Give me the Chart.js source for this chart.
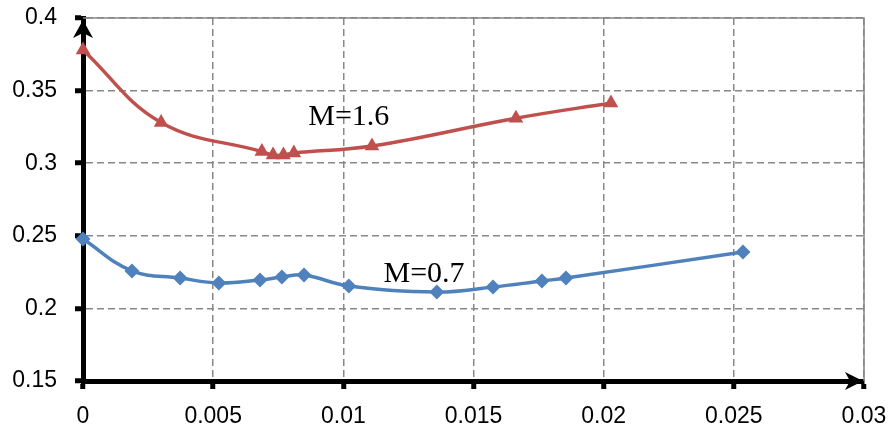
<!DOCTYPE html>
<html>
<head>
<meta charset="utf-8">
<script src="https://cdn.jsdelivr.net/npm/chart.js@4/dist/chart.umd.min.js"></script>
<style>
  html, body { margin: 0; padding: 0; background: #fff; }
  #wrap { width: 890px; height: 436px; position: relative; }
</style>
</head>
<body>
<div id="wrap"><canvas id="chart"></canvas></div>
<script>
// M = 1.6 curve
const xHigh = [0, 0.0030, 0.00687, 0.0073, 0.0077, 0.0081, 0.0111, 0.01663, 0.02028];
const yHigh = [0.378, 0.328, 0.308, 0.3056, 0.3056, 0.307, 0.3118, 0.331, 0.3415];

// M = 0.7 curve
const xLow = [0, 0.00188, 0.00373, 0.00522, 0.0068, 0.00764, 0.00849, 0.01021, 0.01359, 0.01575, 0.01763, 0.01855, 0.02535];
const yLow = [0.2478, 0.2258, 0.2209, 0.2175, 0.2196, 0.2216, 0.223, 0.2154, 0.2113, 0.2147, 0.2189, 0.2209, 0.2388];

const xTicks = [0, 0.005, 0.01, 0.015, 0.02, 0.025, 0.03];
const yTicks = [0.15, 0.2, 0.25, 0.3, 0.35, 0.4];

// curve captions, anchored in data coordinates
const captions = [
    { text: 'M=1.6', x: 0.01021, y: 0.3263 },
    { text: 'M=0.7', x: 0.0131, y: 0.2182 }
];

const toPoints = (xs, ys) => xs.map((x, i) => ({ x: x, y: ys[i] }));

// black axes with arrow heads + grey frame on top/right
const axesPlugin = {
    id: 'axesArrows',
    beforeDatasetsDraw(chart) {
        const { ctx, chartArea: a } = chart;
        ctx.save();
        ctx.strokeStyle = '#888';
        ctx.lineWidth = 1.5;
        ctx.beginPath();
        ctx.moveTo(a.left, a.top);
        ctx.lineTo(a.right, a.top);
        ctx.lineTo(a.right, a.bottom);
        ctx.stroke();

        ctx.fillStyle = '#000';
        // up arrow on the y axis
        const yx = a.left;
        ctx.beginPath();
        ctx.moveTo(yx, a.top + 2);
        ctx.lineTo(yx + 10, a.top + 20);
        ctx.lineTo(yx, a.top + 15);
        ctx.lineTo(yx - 10, a.top + 20);
        ctx.closePath();
        ctx.fill();
        // right arrow on the x axis
        const xy = a.bottom;
        ctx.beginPath();
        ctx.moveTo(a.right - 1, xy);
        ctx.lineTo(a.right - 19, xy - 9);
        ctx.lineTo(a.right - 14, xy);
        ctx.lineTo(a.right - 19, xy + 9);
        ctx.closePath();
        ctx.fill();
        ctx.restore();
    },
    afterDatasetsDraw(chart) {
        const { ctx, scales } = chart;
        ctx.save();
        ctx.fillStyle = '#000';
        ctx.font = '30px "Liberation Serif", "Times New Roman", serif';
        ctx.textAlign = 'center';
        ctx.textBaseline = 'alphabetic';
        captions.forEach(c => {
            ctx.fillText(c.text, scales.x.getPixelForValue(c.x), scales.y.getPixelForValue(c.y));
        });
        ctx.restore();
    }
};

const tickFont = { family: '"Liberation Sans", Arial, sans-serif', size: 23 };

// fixed axis sizes, no extra room for overhanging labels
const fitBox = size => s => {
    if (s.isHorizontal()) s.height = size; else s.width = size;
    s.paddingTop = 0; s.paddingBottom = 0; s.paddingLeft = 0; s.paddingRight = 0;
};

new Chart(document.getElementById('chart'), {
    type: 'scatter',
    data: {
        datasets: [
            {
                label: 'M=1.6',
                data: toPoints(xHigh, yHigh),
                showLine: true,
                clip: false,
                borderColor: '#C0504D',
                backgroundColor: '#C0504D',
                borderWidth: 3.5,
                tension: 0.4,
                pointStyle: 'triangle',
                pointRadius: 8.5,
                pointBorderWidth: 0
            },
            {
                label: 'M=0.7',
                data: toPoints(xLow, yLow),
                showLine: true,
                clip: false,
                borderColor: '#4F81BD',
                backgroundColor: '#4F81BD',
                borderWidth: 3.5,
                tension: 0.4,
                pointStyle: 'rectRot',
                pointRadius: 7.5,
                pointBorderWidth: 0
            }
        ]
    },
    options: {
        responsive: true,
        maintainAspectRatio: false,
        animation: false,
        layout: { padding: { top: 18, right: 26, left: 0, bottom: 0 } },
        plugins: { legend: { display: false }, tooltip: { enabled: false } },
        scales: {
            x: {
                type: 'linear',
                min: 0,
                max: 0.03,
                afterBuildTicks: s => { s.ticks = xTicks.map(v => ({ value: v })); },
                afterFit: fitBox(55),
                ticks: { color: '#000', font: tickFont, padding: 14, maxRotation: 0, callback: v => String(v) },
                grid: { color: '#888', lineWidth: 1.5, tickLength: 8, tickWidth: 5, tickColor: '#000' },
                border: { color: '#000', width: 5, dash: [7, 4] }
            },
            y: {
                type: 'linear',
                min: 0.15,
                max: 0.4,
                afterBuildTicks: s => { s.ticks = yTicks.map(v => ({ value: v })); },
                afterFit: fitBox(83),
                ticks: { color: '#000', font: tickFont, padding: 18, callback: v => String(v) },
                grid: { color: '#888', lineWidth: 1.5, tickLength: 8, tickWidth: 5, tickColor: '#000' },
                border: { color: '#000', width: 5, dash: [7, 4] }
            }
        }
    },
    plugins: [axesPlugin]
});
</script>
</body>
</html>
